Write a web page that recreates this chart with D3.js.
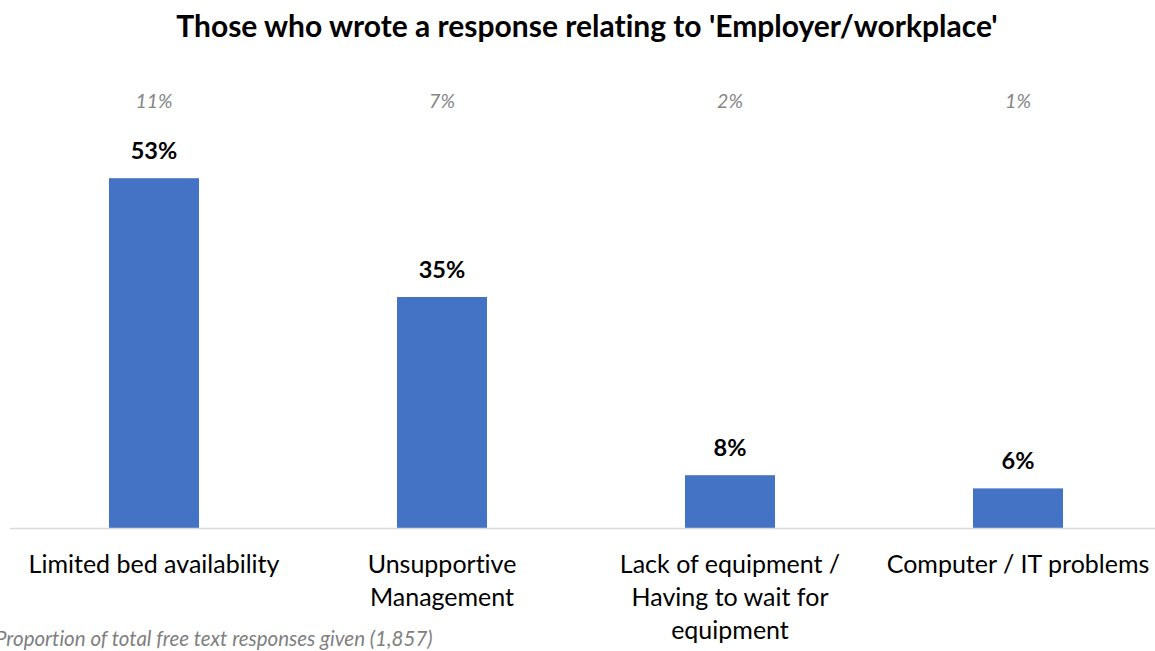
<!DOCTYPE html>
<html>
<head>
<meta charset="utf-8">
<script src="https://cdn.jsdelivr.net/npm/d3@7"></script>
<style>
  html, body { margin: 0; padding: 0; background: #fff; }
  svg { display: block; font-family: Lato, "Open Sans", sans-serif; font-variant-ligatures: none; }
</style>
</head>
<body>
<svg id="chart" width="1155" height="651"></svg>
<script>
// Categories (each label split into display lines)
const categories = [
  "Limited bed availability",
  "Unsupportive Management",
  "Lack of equipment / Having to wait for equipment",
  "Computer / IT problems"
];
const categoryLines = [
  ["Limited bed availability"],
  ["Unsupportive", "Management"],
  ["Lack of equipment /", "Having to wait for", "equipment"],
  ["Computer / IT problems"]
];
// Share within 'Employer/workplace' responses (%)
const shareValues = [53, 35, 8, 6];
// Share of all free text responses (%)
const totalShareValues = [11, 7, 2, 1];

const titleText = "Those who wrote a response relating to 'Employer/workplace'";
const footnoteText = "Proportion of total free text responses given (1,857)";

const svg = d3.select("#chart");
const W = 1155, H = 651;
const plot = { left: 10, right: 1162, top: 132, bottom: 528 };

const x = d3.scaleBand()
  .domain(categories)
  .range([plot.left, plot.right])
  .paddingInner(1 - 90 / 288)
  .paddingOuter((1 - 90 / 288) / 2);

const y = d3.scaleLinear()
  .domain([0, 60])
  .range([plot.bottom, plot.top]);

// Title
svg.append("text")
  .attr("x", 587).attr("y", 37)
  .attr("text-anchor", "middle")
  .attr("font-size", 30).attr("font-weight", 700)
  .attr("fill", "#000")
  .text(titleText);

// Bars
svg.append("g").selectAll("rect")
  .data(categories)
  .join("rect")
  .attr("x", d => x(d))
  .attr("width", x.bandwidth())
  .attr("y", (d, i) => y(shareValues[i]))
  .attr("height", (d, i) => y(0) - y(shareValues[i]))
  .attr("fill", "#4472C4");

// Baseline
svg.append("line")
  .attr("x1", plot.left).attr("x2", W)
  .attr("y1", plot.bottom + 0.5).attr("y2", plot.bottom + 0.5)
  .attr("stroke", "#d9d9d9").attr("stroke-width", 1.5);

// Value labels above bars
svg.append("g").selectAll("text")
  .data(categories)
  .join("text")
  .attr("x", d => x(d) + x.bandwidth() / 2)
  .attr("y", (d, i) => y(shareValues[i]) - 19)
  .attr("text-anchor", "middle")
  .attr("font-size", 23.5).attr("font-weight", 700)
  .attr("fill", "#000")
  .text((d, i) => shareValues[i] + "%");

// Share of all responses, italic row along the top
svg.append("g").selectAll("text")
  .data(categories)
  .join("text")
  .attr("x", d => x(d) + x.bandwidth() / 2)
  .attr("y", 108)
  .attr("text-anchor", "middle")
  .attr("font-size", 19.5).attr("font-style", "italic")
  .attr("fill", "#858585")
  .text((d, i) => totalShareValues[i] + "%");

// Category labels
const catG = svg.append("g").selectAll("text")
  .data(categories)
  .join("text")
  .attr("text-anchor", "middle")
  .attr("font-size", 25)
  .attr("fill", "#000");
catG.selectAll("tspan")
  .data((d, i) => categoryLines[i].map(line => ({ line, cx: x(d) + x.bandwidth() / 2 })))
  .join("tspan")
  .attr("x", t => t.cx)
  .attr("y", (t, j) => 573 + j * 33)
  .text(t => t.line);

// Footnote
svg.append("text")
  .attr("x", -5).attr("y", 646)
  .attr("font-size", 20.5).attr("font-style", "italic")
  .attr("fill", "#7f7f7f")
  .text(footnoteText);
</script>
</body>
</html>
